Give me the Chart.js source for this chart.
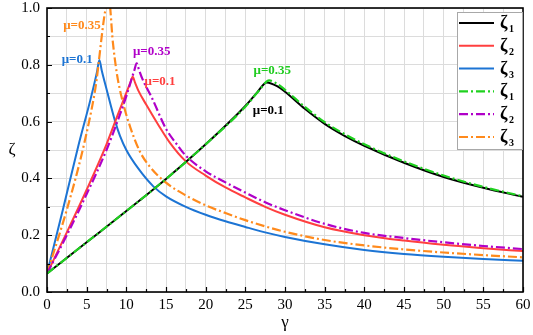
<!DOCTYPE html>
<html>
<head>
<meta charset="utf-8">
<script src="https://cdn.jsdelivr.net/npm/chart.js@4.4.1/dist/chart.umd.min.js"></script>
<style>
  html, body { margin: 0; padding: 0; background: #fff; }
  #wrap { width: 533px; height: 335px; }
</style>
</head>
<body>
<div id="wrap"><canvas id="chart" width="533" height="335"></canvas></div>
<script>
// zeta_1 (mu = 0.1, black solid / mu = 0.35, green dash-dot)
const gammaZ1a = [0, 5, 10, 15, 20, 25, 26.5, 27.7, 29, 30, 32.5, 35, 37.5, 40, 45, 50, 55, 60];
const zetaZ1a  = [0.065, 0.175, 0.285, 0.398, 0.52, 0.655, 0.703, 0.738, 0.725, 0.705, 0.645, 0.592, 0.55, 0.515, 0.455, 0.405, 0.367, 0.335];
const gammaZ1b = [0, 5, 10, 15, 20, 25, 26.8, 28, 29, 30, 32.5, 35, 37.5, 40, 45, 50, 55, 60];
const zetaZ1b  = [0.065, 0.175, 0.285, 0.398, 0.52, 0.652, 0.712, 0.745, 0.733, 0.712, 0.652, 0.598, 0.556, 0.52, 0.46, 0.41, 0.37, 0.337];

// zeta_2 (mu = 0.1, red solid / mu = 0.35, purple dash-dot)
const gammaZ2a = [0, 2.5, 5, 7.5, 9, 10.5, 10.8, 11.1, 11.5, 12.5, 14, 15.5, 17.5, 20, 22.5, 25, 27.5, 30, 35, 40, 45, 50, 55, 60];
const zetaZ2a  = [0.065, 0.21, 0.36, 0.52, 0.63, 0.737, 0.758, 0.737, 0.71, 0.66, 0.59, 0.525, 0.46, 0.41, 0.368, 0.333, 0.3, 0.272, 0.228, 0.2, 0.181, 0.166, 0.154, 0.144];
const gammaZ2b = [0, 2.5, 5, 7.5, 9, 10, 11, 11.3, 11.6, 12, 13.2, 15, 16.5, 17.5, 20, 22.5, 25, 27.5, 30, 35, 40, 45, 50, 55, 60];
const zetaZ2b  = [0.065, 0.2, 0.345, 0.5, 0.61, 0.69, 0.78, 0.805, 0.782, 0.752, 0.685, 0.575, 0.515, 0.48, 0.425, 0.386, 0.35, 0.316, 0.288, 0.24, 0.208, 0.19, 0.175, 0.162, 0.151];

// zeta_3 (mu = 0.1, blue solid / mu = 0.35, orange dash-dot)
const gammaZ3a = [0, 2, 4, 5.5, 6.3, 6.6, 6.9, 7.5, 8.6, 9.2, 10, 11.5, 13.4, 15, 17.5, 20, 22.5, 25, 27.5, 30, 35, 40, 45, 50, 55, 60];
const zetaZ3a  = [0.065, 0.29, 0.52, 0.68, 0.775, 0.817, 0.78, 0.715, 0.6, 0.55, 0.5, 0.435, 0.372, 0.337, 0.3, 0.272, 0.249, 0.229, 0.21, 0.194, 0.168, 0.148, 0.134, 0.124, 0.116, 0.11];
const gammaZ3b = [0, 2.5, 4.5, 6, 7.8, 8.3, 8.8, 9.5, 10.5, 11.7, 13, 15, 17.5, 20, 22.5, 25, 27.5, 30, 35, 40, 45, 50, 55, 60];
const zetaZ3b  = [0.065, 0.29, 0.5, 0.7, 1.03, 0.88, 0.77, 0.675, 0.58, 0.495, 0.44, 0.385, 0.34, 0.305, 0.278, 0.253, 0.231, 0.212, 0.183, 0.164, 0.15, 0.139, 0.13, 0.122];

const xTickLabels = [0, 5, 10, 15, 20, 25, 30, 35, 40, 45, 50, 55, 60];
const yTickLabels = ['0.0', '0.2', '0.4', '0.6', '0.8', '1.0'];

// curve labels: text, colour, gamma, zeta (centre of text)
const curveLabels = [
  ['μ=0.35', '#ff8a1c', 4.4, 0.937],
  ['μ=0.1', '#1c74d4', 3.8, 0.817],
  ['μ=0.35', '#b000c8', 13.2, 0.845],
  ['μ=0.1', '#ff3f3f', 14.25, 0.74],
  ['μ=0.35', '#1fcc1f', 28.4, 0.78],
  ['μ=0.1', '#000000', 27.9, 0.64]
];

const SERIF = '"Liberation Serif", "Times New Roman", serif';
const DASHDOT = [9, 3, 2, 3];

const pts = (xs, ys) => xs.map((x, i) => ({ x: x, y: ys[i] }));

function solid(sub, color, xs, ys) {
  return { label: sub, data: pts(xs, ys), borderColor: color, borderWidth: 2, order: 1, fill: false };
}
function dashdot(sub, color, xs, ys) {
  return { label: sub, data: pts(xs, ys), borderColor: color, borderWidth: 2.2, borderDash: DASHDOT, order: 0, fill: false };
}

const datasets = [
  solid('1', '#000000', gammaZ1a, zetaZ1a),
  solid('2', '#ff3f3f', gammaZ2a, zetaZ2a),
  solid('3', '#1c74d4', gammaZ3a, zetaZ3a),
  dashdot('1', '#1fd11f', gammaZ1b, zetaZ1b),
  dashdot('2', '#b000c8', gammaZ2b, zetaZ2b),
  dashdot('3', '#ff8a1c', gammaZ3b, zetaZ3b)
];

// inward ticks, frame, axis titles, curve labels, legend
const decorPlugin = {
  id: 'decor',
  afterDraw(chart) {
    const ctx = chart.ctx;
    const a = chart.chartArea;
    const xs = chart.scales.x, ys = chart.scales.y;
    ctx.save();

    // inward ticks
    ctx.strokeStyle = '#000';
    ctx.lineWidth = 1.2;
    ctx.beginPath();
    for (let v = 0; v <= 60.001; v += 2.5) {
      const px = Math.round(xs.getPixelForValue(v)) + 0.5;
      const len = (Math.abs(v % 5) < 0.01) ? 5 : 3;
      ctx.moveTo(px, a.bottom);
      ctx.lineTo(px, a.bottom - len);
    }
    for (let i = 0; i <= 10; i++) {
      const py = Math.round(ys.getPixelForValue(i / 10)) + 0.5;
      const len = (i % 2 === 0) ? 5 : 3;
      ctx.moveTo(a.left, py);
      ctx.lineTo(a.left + len, py);
    }
    ctx.stroke();

    // frame
    ctx.lineWidth = 1.6;
    ctx.strokeRect(a.left, a.top, a.right - a.left, a.bottom - a.top);

    // axis titles
    ctx.fillStyle = '#000';
    ctx.textAlign = 'center';
    ctx.textBaseline = 'middle';
    ctx.font = '17px ' + SERIF;
    ctx.fillText('γ', (a.left + a.right) / 2, a.bottom + 31);
    ctx.fillText('ζ', a.left - 35, (a.top + a.bottom) / 2);

    // curve labels
    ctx.font = 'bold 13px ' + SERIF;
    curveLabels.forEach(l => {
      ctx.fillStyle = l[1];
      ctx.fillText(l[0], xs.getPixelForValue(l[2]), ys.getPixelForValue(l[3]));
    });

    // legend
    const bw = 66, bh = 138;
    const bx = a.right - bw, by = a.top + 4;
    ctx.fillStyle = '#fff';
    ctx.fillRect(bx, by, bw, bh);
    ctx.strokeStyle = '#a8a8a8';
    ctx.lineWidth = 1;
    ctx.strokeRect(bx + 0.5, by + 0.5, bw - 1, bh - 1);
    chart.data.datasets.forEach((ds, i) => {
      const y = by + 11 + i * 22.8;
      ctx.strokeStyle = ds.borderColor;
      ctx.lineWidth = ds.borderWidth;
      ctx.setLineDash(ds.borderDash || []);
      ctx.beginPath();
      ctx.moveTo(bx + 2, y);
      ctx.lineTo(bx + 37, y);
      ctx.stroke();
      ctx.setLineDash([]);
      ctx.fillStyle = '#000';
      ctx.textAlign = 'left';
      ctx.textBaseline = 'alphabetic';
      ctx.font = 'bold 18px ' + SERIF;
      ctx.fillText('ζ', bx + 43, y + 5);
      ctx.font = 'bold 10px ' + SERIF;
      ctx.fillText(ds.label, bx + 52, y + 9);
    });
    ctx.restore();
  }
};

new Chart(document.getElementById('chart'), {
  type: 'line',
  data: { datasets: datasets },
  options: {
    responsive: false,
    animation: false,
    layout: { padding: { left: 0, right: 10, top: 8, bottom: 0 } },
    plugins: { legend: { display: false }, tooltip: { enabled: false } },
    elements: {
      point: { radius: 0 },
      line: { cubicInterpolationMode: 'monotone', borderJoinStyle: 'round' }
    },
    scales: {
      x: {
        type: 'linear', min: 0, max: 60,
        afterFit: s => { s.height = 43; s.paddingLeft = 0; s.paddingRight = 0; },
        grid: { color: '#dcdcdc', lineWidth: 1, drawTicks: false },
        border: { display: false },
        ticks: {
          stepSize: 2.5, autoSkip: false, maxRotation: 0, padding: 4, color: '#000',
          font: { family: SERIF, size: 15 },
          callback: v => xTickLabels.includes(v) ? String(v) : ''
        }
      },
      y: {
        type: 'linear', min: 0, max: 1,
        afterFit: s => { s.width = 47; s.paddingTop = 0; s.paddingBottom = 0; },
        grid: { color: '#dcdcdc', lineWidth: 1, drawTicks: false },
        border: { display: false },
        ticks: {
          stepSize: 0.1, autoSkip: false, padding: 7, color: '#000',
          font: { family: SERIF, size: 15 },
          callback: v => {
            const s = Number(v).toFixed(1);
            return yTickLabels.includes(s) ? s : '';
          }
        }
      }
    }
  },
  plugins: [decorPlugin]
});
</script>
</body>
</html>
